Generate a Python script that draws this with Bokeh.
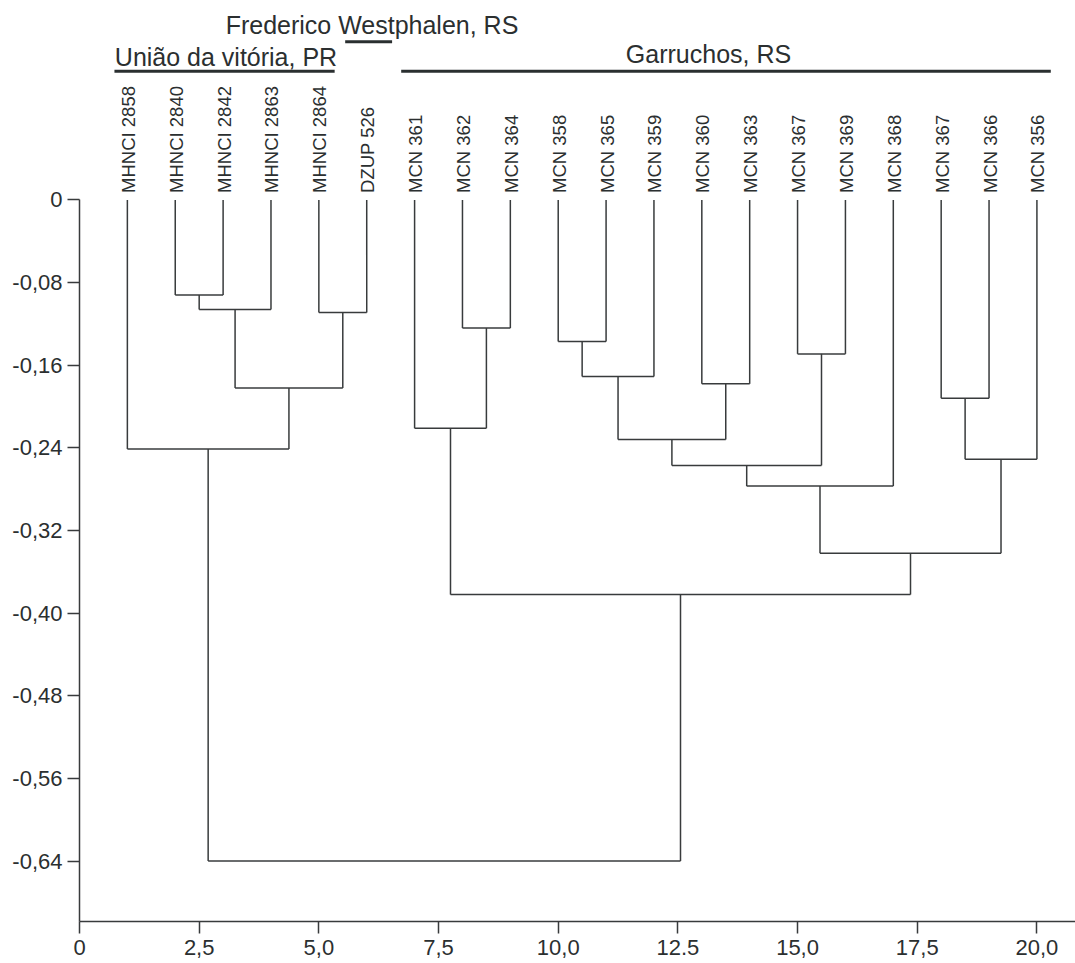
import math
from bokeh.plotting import figure
from bokeh.models import Range1d, FixedTicker
from bokeh.core.properties import value
from bokeh.embed import file_html
from bokeh.resources import INLINE

# ---------------- data ----------------
leaf_labels = ["MHNCI 2858", "MHNCI 2840", "MHNCI 2842", "MHNCI 2863", "MHNCI 2864",
               "DZUP 526", "MCN 361", "MCN 362", "MCN 364", "MCN 358", "MCN 365",
               "MCN 359", "MCN 360", "MCN 363", "MCN 367", "MCN 369", "MCN 368",
               "MCN 367", "MCN 366", "MCN 356"]

# merges (scipy-like: leaves are 0..19, merged clusters are 20, 21, ...)
merge_left = [1, 20, 4, 21, 0, 7, 6, 9, 27, 12, 28, 14, 30, 32, 17, 34, 33, 26, 24]
merge_right = [2, 3, 5, 22, 23, 8, 25, 10, 11, 13, 29, 15, 31, 16, 18, 19, 35, 36, 37]
merge_height = [-0.092, -0.106, -0.109, -0.182, -0.241, -0.124, -0.221, -0.137, -0.171,
                -0.178, -0.232, -0.149, -0.257, -0.277, -0.192, -0.251, -0.342, -0.382,
                -0.640]

group_names = ["União da vitória, PR", "Frederico Westphalen, RS", "Garruchos, RS"]

x_ticks = [0, 2.5, 5.0, 7.5, 10.0, 12.5, 15.0, 17.5, 20.0]
x_tick_labels = ["0", "2,5", "5,0", "7,5", "10,0", "12.5", "15,0", "17,5", "20,0"]
y_ticks = [0, -0.08, -0.16, -0.24, -0.32, -0.40, -0.48, -0.56, -0.64]
y_tick_labels = ["0", "-0,08", "-0,16", "-0,24", "-0,32", "-0,40", "-0,48", "-0,56", "-0,64"]

# ---------------- layout constants (annotation placement) ----------------
group_bar_x0 = [0.73, 5.55, 6.72]
group_bar_x1 = [5.33, 6.53, 20.29]
group_bar_y = [0.1247, 0.1531, 0.1247]
group_text_x = [3.06, 6.11, 13.14]
group_text_y = [0.1318, 0.1624, 0.1350]

# ---------------- tree layout ----------------
n = len(leaf_labels)
pos = {i: (float(i + 1), 0.0) for i in range(n)}
x0s, y0s, x1s, y1s = [], [], [], []
for k, (a, b, h) in enumerate(zip(merge_left, merge_right, merge_height)):
    xa, ya = pos[a]
    xb, yb = pos[b]
    x0s += [xa, xb, xa]
    y0s += [ya, yb, h]
    x1s += [xa, xb, xb]
    y1s += [h, h, h]
    pos[n + k] = ((xa + xb) / 2.0, h)

FONT = "Liberation Sans"
TEXT = "#2b2f30"
LINE = "#383b3c"

p = figure(width=1075, height=963, output_backend="svg", toolbar_location=None,
           x_range=Range1d(0, 20.806), y_range=Range1d(-0.6985, 0.1931),
           min_border_left=79, min_border_right=0, min_border_top=0, min_border_bottom=42)
p.outline_line_color = None
p.xgrid.visible = False
p.ygrid.visible = False
p.background_fill_color = "white"
p.border_fill_color = "white"

# dendrogram
p.segment(x0=x0s, y0=y0s, x1=x1s, y1=y1s, line_color=LINE, line_width=1.5)

# leaf labels
leaf_x = [float(i + 1) for i in range(n)]
p.text(x=leaf_x, y=[0.0] * n, text=leaf_labels, angle=math.pi / 2,
       text_align="left", text_baseline="middle", y_offset=-7, x_offset=1,
       text_font=value(FONT), text_font_size="18.5px", text_color=TEXT)

# group bars and names
p.segment(x0=group_bar_x0, y0=group_bar_y, x1=group_bar_x1, y1=group_bar_y,
          line_color="#2a2f30", line_width=3)
p.text(x=group_text_x, y=group_text_y, text=group_names, y_offset=-7,
       text_align="center", text_baseline="alphabetic",
       text_font=value(FONT), text_font_size="25px", text_color=TEXT)

# axes
for ax in (p.xaxis[0], p.yaxis[0]):
    ax.axis_line_color = LINE
    ax.axis_line_width = 1.5
    ax.major_tick_line_color = LINE
    ax.major_tick_line_width = 1.5
    ax.major_tick_out = 12
    ax.major_tick_in = 0
    ax.minor_tick_line_color = None
    ax.major_label_text_font = FONT
    ax.major_label_text_font_size = "22px"
    ax.major_label_text_color = TEXT

p.xaxis.ticker = FixedTicker(ticks=x_ticks)
p.xaxis.major_label_overrides = {t: s for t, s in zip(x_ticks, x_tick_labels)}
p.xaxis.major_label_standoff = 6
p.yaxis.ticker = FixedTicker(ticks=y_ticks)
p.yaxis.major_label_overrides = {t: s for t, s in zip(y_ticks, y_tick_labels)}
p.yaxis.major_label_standoff = 5
p.yaxis.bounds = (-0.6985, 0)

open("out.html", "w").write(file_html(p, INLINE))
